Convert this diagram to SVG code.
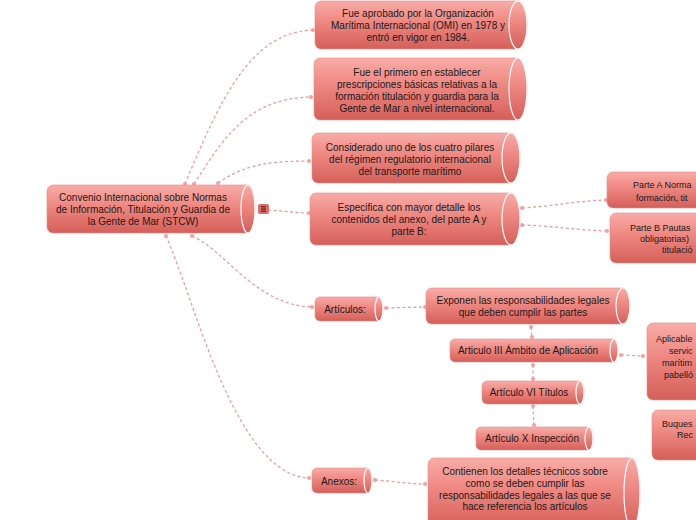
<svg xmlns="http://www.w3.org/2000/svg" width="696" height="520" viewBox="0 0 696 520">
<defs>
<linearGradient id="g" x1="0" y1="0" x2="0" y2="1">
<stop offset="0" stop-color="#f8aca8"/>
<stop offset="0.4" stop-color="#f08a84"/>
<stop offset="1" stop-color="#d55f5a"/>
</linearGradient>
</defs>
<style>
.b{fill:url(#g);stroke:#e78a86;stroke-width:0.6}
.cap{fill:none;stroke:#ffffff;stroke-width:1.2}
.t{font-family:"Liberation Sans",Arial,sans-serif;font-size:10px;fill:#1a1a1a;text-anchor:middle}
.ts{font-family:"Liberation Sans",Arial,sans-serif;font-size:9px;fill:#1a1a1a}
.c{fill:none;stroke:#f29494;stroke-width:1.2;stroke-dasharray:3 2.5}
.d{fill:#f4a0a0}
</style>
<rect width="696" height="520" fill="#ffffff"/>
<g id="connectors">
<path class="c" d="M185,184 C220,100 250,32 313,30"/>
<path class="c" d="M194,184 C225,135 250,98 311,97"/>
<path class="c" d="M218,183 C240,168 260,161 309,161"/>
<path class="c" d="M268,210 C285,211 295,213 309,213"/>
<path class="c" d="M192,236 C225,250 255,305 312,307"/>
<path class="c" d="M166,236 C195,300 235,475 309,478"/>
<path class="c" d="M522,208 C555,206 575,201 606,200"/>
<path class="c" d="M522,225 C555,226 575,230 607,231"/>
<path class="c" d="M386,308 L425,307"/>
<path class="c" d="M531,327 L532,337"/>
<path class="c" d="M533,365 L533,379"/>
<path class="c" d="M533,406 L534,425"/>
<path class="c" d="M621,355 L643,356"/>
<path class="c" d="M375,480 C395,481 405,484 425,484"/>
<circle class="d" cx="185" cy="184" r="2"/><circle class="d" cx="313" cy="30" r="2"/>
<circle class="d" cx="194" cy="184" r="2"/><circle class="d" cx="311" cy="97" r="2"/>
<circle class="d" cx="218" cy="183" r="2"/><circle class="d" cx="309" cy="161" r="2"/>
<circle class="d" cx="309" cy="213" r="2"/>
<circle class="d" cx="192" cy="236" r="2"/><circle class="d" cx="312" cy="307" r="2"/>
<circle class="d" cx="166" cy="236" r="2"/><circle class="d" cx="309" cy="478" r="2"/>
<circle class="d" cx="522" cy="208" r="2"/><circle class="d" cx="606" cy="200" r="2"/>
<circle class="d" cx="522" cy="225" r="2"/><circle class="d" cx="607" cy="231" r="2"/>
<circle class="d" cx="386" cy="308" r="2"/><circle class="d" cx="425" cy="307" r="2"/>
<circle class="d" cx="531" cy="327" r="2"/><circle class="d" cx="532" cy="337" r="2"/>
<circle class="d" cx="533" cy="365" r="2"/><circle class="d" cx="533" cy="379" r="2"/>
<circle class="d" cx="533" cy="406" r="2"/><circle class="d" cx="534" cy="425" r="2"/>
<circle class="d" cx="621" cy="355" r="2"/><circle class="d" cx="643" cy="356" r="2"/>
<circle class="d" cx="375" cy="480" r="2"/><circle class="d" cx="425" cy="484" r="2"/>
</g>
<g id="central">
<path class="b" d="M53,185 H248 A7,24 0 0 1 248,233 H53 A6,6 0 0 1 47,227 V191 A6,6 0 0 1 53,185 Z"/>
<ellipse class="cap" cx="248" cy="209" rx="7" ry="24"/>
<text class="t" x="143" y="201">Convenio Internacional sobre Normas</text>
<text class="t" x="143" y="213">de Información, Titulación y Guardia de</text>
<text class="t" x="143" y="225">la Gente de Mar (STCW)</text>
<g id="icon">
<rect x="258" y="204" width="11" height="10" rx="2" fill="#e06a66"/>
<path d="M261,206.8 H266 M261,209 H266 M261,211.2 H266" stroke="#3a1a1a" stroke-width="1"/>
</g>
</g>
<g id="n1">
<path class="b" d="M321,1 H518 A9,24 0 0 1 518,49 H321 A6,6 0 0 1 315,43 V7 A6,6 0 0 1 321,1 Z"/>
<ellipse class="cap" cx="518" cy="25" rx="9" ry="24"/>
<text class="t" x="418" y="16.5">Fue aprobado por la Organización</text>
<text class="t" x="418" y="28.5">Marítima Internacional (OMI) en 1978 y</text>
<text class="t" x="418" y="40.5">entró en vigor en 1984.</text>
</g>
<g id="n2">
<path class="b" d="M320,58 H518 A9,31 0 0 1 518,120 H320 A6,6 0 0 1 314,114 V64 A6,6 0 0 1 320,58 Z"/>
<ellipse class="cap" cx="518" cy="89" rx="9" ry="31"/>
<text class="t" x="417" y="75.5">Fue el primero en establecer</text>
<text class="t" x="417" y="87.5">prescripciones básicas relativas a la</text>
<text class="t" x="417" y="99.5">formación titulación y guardia para la</text>
<text class="t" x="417" y="111.5">Gente de Mar a nivel internacional.</text>
</g>
<g id="n3">
<path class="b" d="M318,133 H511 A9,25 0 0 1 511,183 H318 A6,6 0 0 1 312,177 V139 A6,6 0 0 1 318,133 Z"/>
<ellipse class="cap" cx="511" cy="158" rx="9" ry="25"/>
<text class="t" x="410" y="150.5">Considerado uno de los cuatro pilares</text>
<text class="t" x="410" y="162.5">del régimen regulatorio internacional</text>
<text class="t" x="410" y="174.5">del transporte marítimo</text>
</g>
<g id="n4">
<path class="b" d="M316,193 H511 A9,26 0 0 1 511,245 H316 A6,6 0 0 1 310,239 V199 A6,6 0 0 1 316,193 Z"/>
<ellipse class="cap" cx="511" cy="219" rx="9" ry="26"/>
<text class="t" x="409" y="210.5">Especifica con mayor detalle los</text>
<text class="t" x="409" y="222.5">contenidos del anexo, del parte A y</text>
<text class="t" x="409" y="234.5">parte B:</text>
</g>
<g id="parteA">
<path class="b" d="M613,172 H799 A8,18 0 0 1 799,208 H613 A6,6 0 0 1 607,202 V178 A6,6 0 0 1 613,172 Z"/>
<text class="ts" x="633" y="187.5">Parte A Norma</text>
<text class="ts" x="636" y="200.5">formación, tit</text>
</g>
<g id="parteB">
<path class="b" d="M616,213 H801 A9,25 0 0 1 801,263 H616 A6,6 0 0 1 610,257 V219 A6,6 0 0 1 616,213 Z"/>
<text class="ts" x="630" y="230.5">Parte B Pautas</text>
<text class="ts" x="640" y="241.5">obligatorias)</text>
<text class="ts" x="662" y="252.5">titulació</text>
</g>
<g id="articulos">
<path class="b" d="M320,297 H379 A4,12 0 0 1 379,321 H320 A5,5 0 0 1 315,316 V302 A5,5 0 0 1 320,297 Z"/>
<ellipse class="cap" cx="379" cy="309" rx="4" ry="12"/>
<text class="t" x="345" y="312.5">Artículos:</text>
</g>
<g id="exponen">
<path class="b" d="M432,288 H623 A7,18 0 0 1 623,324 H432 A6,6 0 0 1 426,318 V294 A6,6 0 0 1 432,288 Z"/>
<ellipse class="cap" cx="623" cy="306" rx="7" ry="18"/>
<text class="t" x="523" y="303.5">Exponen las responsabilidades legales</text>
<text class="t" x="523" y="315.5">que deben cumplir las partes</text>
</g>
<g id="art3">
<path class="b" d="M455,339 H614 A4,11.5 0 0 1 614,362 H455 A5,5 0 0 1 450,357 V344 A5,5 0 0 1 455,339 Z"/>
<ellipse class="cap" cx="614" cy="350.5" rx="4" ry="11.5"/>
<text class="t" x="528" y="354">Articulo III Ámbito de Aplicación</text>
</g>
<g id="art6">
<path class="b" d="M487,381 H580 A4,11.5 0 0 1 580,404 H487 A5,5 0 0 1 482,399 V386 A5,5 0 0 1 487,381 Z"/>
<ellipse class="cap" cx="580" cy="392.5" rx="4" ry="11.5"/>
<text class="t" x="529" y="396">Artículo VI Títulos</text>
</g>
<g id="art10">
<path class="b" d="M481,427 H589 A4,11.5 0 0 1 589,450 H481 A5,5 0 0 1 476,445 V432 A5,5 0 0 1 481,427 Z"/>
<ellipse class="cap" cx="589" cy="438.5" rx="4" ry="11.5"/>
<text class="t" x="532" y="441.5">Artículo X Inspección</text>
</g>
<g id="anexos">
<path class="b" d="M317,468 H368 A4,12.5 0 0 1 368,493 H317 A5,5 0 0 1 312,488 V473 A5,5 0 0 1 317,468 Z"/>
<ellipse class="cap" cx="368" cy="480.5" rx="4" ry="12.5"/>
<text class="t" x="339" y="484.5">Anexos:</text>
</g>
<g id="contienen">
<path class="b" d="M434,458 H632 A8,35 0 0 1 632,528 H434 A6,6 0 0 1 428,522 V464 A6,6 0 0 1 434,458 Z"/>
<ellipse class="cap" cx="632" cy="493" rx="8" ry="35"/>
<text class="t" x="525" y="475">Contienen los detalles técnicos sobre</text>
<text class="t" x="525" y="487">como se deben cumplir las</text>
<text class="t" x="525" y="498.5">responsabilidades legales a las que se</text>
<text class="t" x="525" y="510">hace referencia los artículos</text>
</g>
<g id="aplicable">
<path class="b" d="M653,323 H838 A9,38.5 0 0 1 838,400 H653 A6,6 0 0 1 647,394 V329 A6,6 0 0 1 653,323 Z"/>
<text class="ts" x="656" y="341.5">Aplicable</text>
<text class="ts" x="669" y="353.5">servic</text>
<text class="ts" x="662" y="366">marítim</text>
<text class="ts" x="664" y="377.5">pabelló</text>
</g>
<g id="buques">
<path class="b" d="M658,410 H843 A9,25 0 0 1 843,460 H658 A6,6 0 0 1 652,454 V416 A6,6 0 0 1 658,410 Z"/>
<text class="ts" x="662" y="426.5">Buques</text>
<text class="ts" x="677" y="437.5">Rec</text>
</g>
</svg>
